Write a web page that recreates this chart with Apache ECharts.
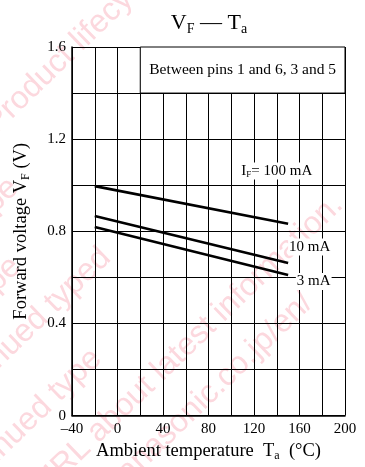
<!DOCTYPE html>
<html><head><meta charset="utf-8">
<script src="https://cdn.jsdelivr.net/npm/echarts@6/dist/echarts.min.js"></script>
<style>html,body{margin:0;padding:0;background:#fff}#c{width:365px;height:467px}</style>
</head><body><div id="c"></div>
<script>
// ---- data ----
const temps = [-20, 150];
const vf100 = [0.996, 0.833];
const vf10 = [0.866, 0.662];
const vf3 = [0.819, 0.610];
const curveNames = ['100 mA', '10 mA', '3 mA'];
const xTickLabels = [-40, 0, 40, 80, 120, 160, 200];
const yTickLabels = [0, 0.4, 0.8, 1.2, 1.6];
const noteText = 'Between pins 1 and 6, 3 and 5';

const FONT = '"Liberation Serif", "Times New Roman", serif';
const WM = '#fcd8de';

function pts(vals){ return temps.map((t,i)=>[t, vals[i]]); }

function curveLabel(coord, text){
  return {
    symbol: 'rect', symbolSize: 0, silent: true,
    data: [{coord: coord, value: 0}],
    label: {
      show: true, position: 'inside', formatter: text,
      color: '#000', fontFamily: FONT, fontSize: 15,
      backgroundColor: '#fff', padding: [0, 1],
      rich: {
        t: {fontFamily: FONT, fontSize: 15, color: '#000', lineHeight: 17},
        s: {fontFamily: FONT, fontSize: 9, color: '#000', lineHeight: 9, verticalAlign: 'bottom'}
      }
    }
  };
}

function lineSeries(name, vals, mp, extra){
  const s = {
    name: name, type: 'line', data: pts(vals), symbol: 'none', silent: true,
    animation: false, z: 3,
    lineStyle: {color: '#000', width: 2.6},
    emphasis: {disabled: true},
    markPoint: mp
  };
  return Object.assign(s, extra || {});
}

function wm(text, x, y, align){
  return {
    type: 'text', x: x, y: y, rotation: 44 * Math.PI / 180, z: -100, silent: true,
    style: {text: text, fill: WM, font: '32px "Liberation Sans", Arial, sans-serif',
            align: align, verticalAlign: 'middle'}
  };
}

const chart = echarts.init(document.getElementById('c'), null, {renderer: 'canvas'});
chart.setOption({
  animation: false,
  backgroundColor: '#fff',
  textStyle: {fontFamily: FONT, color: '#000'},
  grid: {left: 72, right: 20, top: 47, bottom: 50},
  graphic: {elements: [
    wm('Product lifecycle stage.', -10, 128, 'left'),
    wm('planed maintenance type', 14, 183, 'right'),
    wm('maintenance type', 16, 262, 'right'),
    wm('planed discontinued typed', 106, 253, 'right'),
    wm('discontinued type', 97, 354, 'right'),
    wm('Please visit following URL about latest information.', 338, 200, 'right'),
    wm('http://www.semicon.panasonic.co.jp/en/', 308, 298, 'right'),
    {
      type: 'text', x: 209, y: 23, z: 100, silent: true,
      style: {
        text: '{v|V}{s|F}{v| \u2014 T}{s|a}', align: 'center', verticalAlign: 'middle',
        rich: {
          v: {fontFamily: FONT, fontSize: 22, fill: '#000', lineHeight: 26},
          s: {fontFamily: FONT, fontSize: 14, fill: '#000', lineHeight: 14, verticalAlign: 'bottom'}
        }
      }
    }
  ]},
  xAxis: {
    type: 'value', min: -40, max: 200, interval: 20,
    name: '{t|Ambient temperature  T}{s|a}{t|  (\u00b0C)}',
    nameLocation: 'middle', nameGap: 22,
    nameTextStyle: {
      rich: {
        t: {fontFamily: FONT, fontSize: 18.5, color: '#000', lineHeight: 22},
        s: {fontFamily: FONT, fontSize: 12, color: '#000', lineHeight: 12, verticalAlign: 'bottom'}
      }
    },
    axisLine: {show: true, onZero: false, lineStyle: {color: '#000', width: 1.5}},
    axisTick: {show: false},
    splitLine: {show: true, lineStyle: {color: '#000', width: 1}},
    axisLabel: {
      color: '#000', fontFamily: FONT, fontSize: 15, margin: 6,
      formatter: function(v){
        const r = Math.round(v);
        if (xTickLabels.indexOf(r) < 0) return '';
        return r < 0 ? '\u2013' + Math.abs(r) : String(r);
      }
    }
  },
  yAxis: {
    type: 'value', min: 0, max: 1.6, interval: 0.2,
    name: '{t|Forward voltage V}{s|F}{t| (V)}',
    nameLocation: 'middle', nameGap: 40, nameRotate: 90,
    nameTextStyle: {
      rich: {
        t: {fontFamily: FONT, fontSize: 18.5, color: '#000', lineHeight: 22},
        s: {fontFamily: FONT, fontSize: 12, color: '#000', lineHeight: 12, verticalAlign: 'bottom'}
      }
    },
    axisLine: {show: true, onZero: false, lineStyle: {color: '#000', width: 1.5}},
    axisTick: {show: false},
    splitLine: {show: true, lineStyle: {color: '#000', width: 1}},
    axisLabel: {
      color: '#000', fontFamily: FONT, fontSize: 15, margin: 6,
      formatter: function(v){
        const r = Math.round(v * 10);
        const hit = yTickLabels.some(t => Math.round(t * 10) === r);
        if (!hit) return '';
        return r === 0 ? '0' : (r / 10).toFixed(1);
      }
    }
  },
  series: [
    lineSeries('IF = ' + curveNames[0], vf100, curveLabel([140, 1.062], '{t|I}{s|F}{t|= 100 mA}'), {
      markArea: {
        silent: true,
        itemStyle: {color: '#fff', borderColor: '#000', borderWidth: 1, opacity: 1},
        label: {show: true, position: 'inside', color: '#000', fontFamily: FONT, fontSize: 15.5},
        emphasis: {disabled: true},
        data: [[{name: noteText, xAxis: 20, yAxis: 1.4}, {xAxis: 200, yAxis: 1.6}]]
      }
    }),
    lineSeries(curveNames[1], vf10, curveLabel([169, 0.732], '{t|' + curveNames[1] + '}')),
    lineSeries(curveNames[2], vf3, curveLabel([172.5, 0.582], '{t|' + curveNames[2] + '}'))
  ]
});
</script>
</body></html>
